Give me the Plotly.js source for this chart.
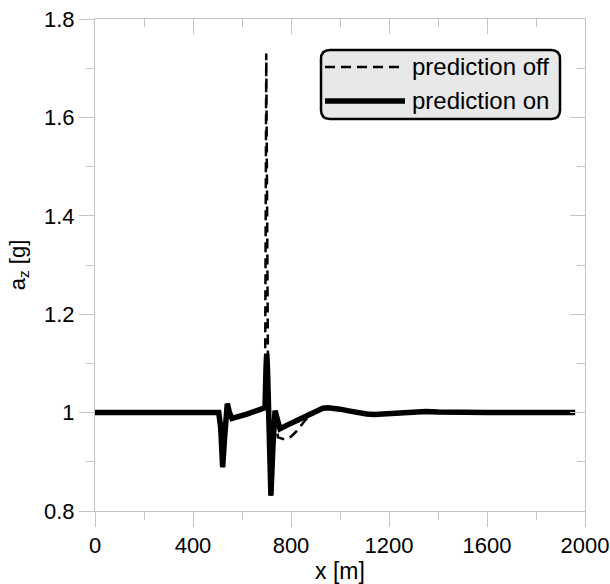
<!DOCTYPE html>
<html>
<head>
<meta charset="utf-8">
<script src="https://cdn.plot.ly/plotly-3.0.1.min.js"></script>
<style>html,body{margin:0;padding:0;background:#fff;}#chart{width:610px;height:584px;}</style>
</head>
<body>
<div id="chart"></div>
<script>
// ---- data ----
const xOn  = [0, 505, 513, 521, 529, 540, 549, 559, 620, 681, 694, 698, 701, 704, 710, 718, 726, 735, 745, 755, 782, 800, 820, 850, 878, 910, 930, 951, 975, 1000, 1041, 1075, 1109, 1140, 1176, 1210, 1240, 1298, 1350, 1400, 1490, 1600, 1960];
const yOn  = [1.0, 1.0, 0.97, 0.889, 0.95, 1.018, 1.0, 0.988, 0.997, 1.006, 1.01, 1.09, 1.12, 1.09, 0.95, 0.831, 0.93, 1.004, 0.985, 0.967, 0.974, 0.977, 0.983, 0.99, 0.997, 1.005, 1.009, 1.01, 1.009, 1.007, 1.003, 0.999, 0.997, 0.996, 0.997, 0.998, 1.0, 1.002, 1.002, 1.001, 1.0, 1.0, 1.0];
const xOff = [0, 505, 513, 521, 529, 540, 549, 559, 620, 681, 694, 699, 707, 712, 718, 726, 735, 747, 776, 800, 824, 857, 885, 910, 930, 951, 975, 1000, 1041, 1075, 1109, 1140, 1176, 1210, 1240, 1298, 1350, 1400, 1490, 1600, 1960];
const yOff = [1.0, 1.0, 0.97, 0.889, 0.95, 1.018, 1.0, 0.988, 0.997, 1.006, 1.01, 1.73, 1.0, 0.9, 0.831, 0.93, 0.99, 0.95, 0.945, 0.951, 0.963, 0.984, 0.998, 1.005, 1.009, 1.01, 1.009, 1.007, 1.003, 0.999, 0.997, 0.996, 0.997, 0.998, 1.0, 1.002, 1.002, 1.001, 1.0, 1.0, 1.0];
const seriesNames = ["prediction off", "prediction on"];
const xTicks = [0, 400, 800, 1200, 1600, 2000];
const xTickText = ["0", "400", "800", "1200", "1600", "2000"];
const yTicks = [0.8, 1.0, 1.2, 1.4, 1.6, 1.8];
const yTickText = ["0.8", "1", "1.2", "1.4", "1.6", "1.8"];

// ---- styles ----
const FONT = '"Liberation Sans", Arial, sans-serif';
const AX = '#c4c4c4';
const W = 610, H = 584;
const M = {l: 95, r: 25, t: 19, b: 73};
const PW = W - M.l - M.r, PH = H - M.t - M.b;
const px2x = p => (p - M.l) / PW;
const px2y = p => (H - M.b - p) / PH;

function roundRect(x0, y0, x1, y1, r) {
  const X = px2x, Y = px2y;
  return `M${X(x0 + r)},${Y(y0)} L${X(x1 - r)},${Y(y0)} Q${X(x1)},${Y(y0)} ${X(x1)},${Y(y0 + r)} ` +
         `L${X(x1)},${Y(y1 - r)} Q${X(x1)},${Y(y1)} ${X(x1 - r)},${Y(y1)} ` +
         `L${X(x0 + r)},${Y(y1)} Q${X(x0)},${Y(y1)} ${X(x0)},${Y(y1 - r)} ` +
         `L${X(x0)},${Y(y0 + r)} Q${X(x0)},${Y(y0)} ${X(x0 + r)},${Y(y0)} Z`;
}

const traces = [
  {x: xOff, y: yOff, name: seriesNames[0], mode: 'lines', line: {color: '#000', width: 2.5, dash: '10px,6px'}},
  {x: xOn, y: yOn, name: seriesNames[1], mode: 'lines', line: {color: '#000', width: 5.5}},
  {x: [], y: [], xaxis: 'x2', yaxis: 'y2', showlegend: false, hoverinfo: 'skip'}
];

const baseAxis = {
  showline: true, linecolor: AX, linewidth: 1, showgrid: false, zeroline: false,
  tickcolor: AX, tickwidth: 1, ticklen: 15,
  tickfont: {family: FONT, size: 22, color: '#000'}
};

const layout = {
  width: W, height: H,
  margin: M,
  paper_bgcolor: '#fff', plot_bgcolor: '#fff',
  showlegend: false,
  font: {family: FONT, color: '#000'},
  xaxis: Object.assign({}, baseAxis, {
    range: [0, 2000], tickmode: 'array', tickvals: xTicks, ticktext: xTickText, ticks: 'outside',
    minor: {dtick: 200, tick0: 0, ticks: 'outside', ticklen: 8, tickcolor: AX, tickwidth: 1},
    title: {text: 'x [m]', font: {family: FONT, size: 23, color: '#000'}, standoff: 2}
  }),
  yaxis: Object.assign({}, baseAxis, {
    range: [0.8, 1.8], tickmode: 'array', tickvals: yTicks, ticktext: yTickText, ticks: 'outside',
    minor: {dtick: 0.1, tick0: 0.8, ticks: 'outside', ticklen: 8, tickcolor: AX, tickwidth: 1},
    title: {text: 'a<sub>z</sub> [g]', font: {family: FONT, size: 22, color: '#000'}, standoff: 12}
  }),
  xaxis2: Object.assign({}, baseAxis, {
    overlaying: 'x', side: 'top', anchor: 'y2', range: [0, 2000], tickmode: 'array', tickvals: xTicks,
    ticks: 'inside', showticklabels: false,
    minor: {dtick: 200, tick0: 0, ticks: 'inside', ticklen: 8, tickcolor: AX, tickwidth: 1}
  }),
  yaxis2: Object.assign({}, baseAxis, {
    overlaying: 'y', side: 'right', anchor: 'x2', range: [0.8, 1.8], tickmode: 'array', tickvals: yTicks,
    ticks: 'inside', showticklabels: false,
    minor: {dtick: 0.1, tick0: 0.8, ticks: 'inside', ticklen: 8, tickcolor: AX, tickwidth: 1}
  }),
  shapes: [
    {type: 'path', xref: 'paper', yref: 'paper', layer: 'above', path: roundRect(321, 50, 560, 119, 9),
     fillcolor: '#e8e8e8', line: {color: '#000', width: 2.5}},
    {type: 'line', xref: 'paper', yref: 'paper', layer: 'above', x0: px2x(325), x1: px2x(405), y0: px2y(67), y1: px2y(67),
     line: {color: '#000', width: 2.5, dash: '10px,6px'}},
    {type: 'line', xref: 'paper', yref: 'paper', layer: 'above', x0: px2x(325), x1: px2x(405), y0: px2y(101), y1: px2y(101),
     line: {color: '#000', width: 5.5}}
  ],
  annotations: [
    {xref: 'paper', yref: 'paper', x: px2x(410), y: px2y(67), xanchor: 'left', yanchor: 'middle', showarrow: false,
     text: seriesNames[0], font: {family: FONT, size: 24, color: '#000'}},
    {xref: 'paper', yref: 'paper', x: px2x(410), y: px2y(101), xanchor: 'left', yanchor: 'middle', showarrow: false,
     text: seriesNames[1], font: {family: FONT, size: 24, color: '#000'}}
  ]
};

Plotly.newPlot('chart', traces, layout, {displayModeBar: false, staticPlot: true});
</script>
</body>
</html>
